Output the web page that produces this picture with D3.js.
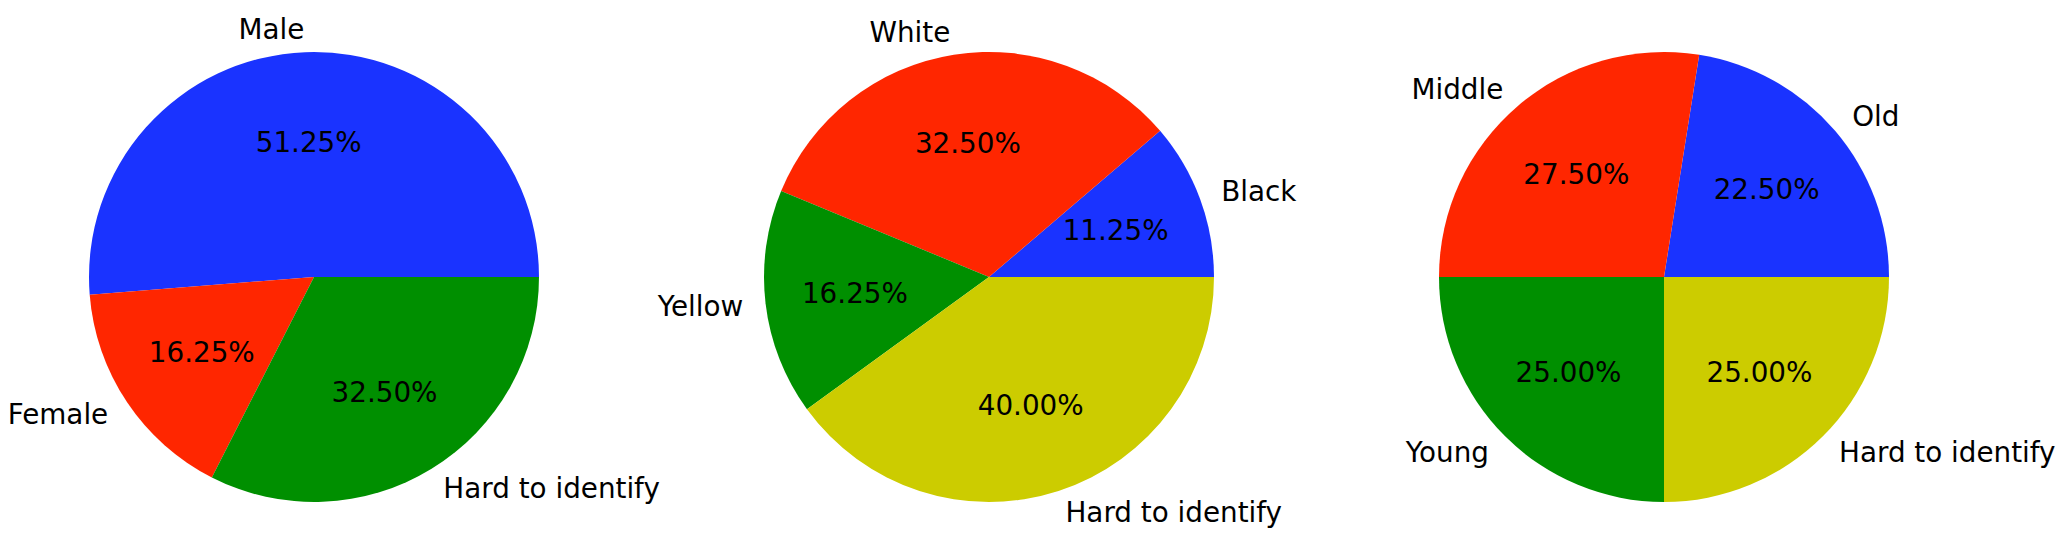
<!DOCTYPE html>
<html>
<head>
<meta charset="utf-8">
<script src="https://cdn.jsdelivr.net/npm/d3@7"></script>
<style>
  html, body { margin: 0; padding: 0; background: #fff; }
  text { font-family: "DejaVu Sans", sans-serif; font-size: 27.8px; fill: #000; }
</style>
</head>
<body>
<div id="chart"></div>
<script>
// data
var genderLabels = ["Male", "Female", "Hard to identify"];
var genderValues = [51.25, 16.25, 32.5];
var raceLabels = ["Black", "White", "Yellow", "Hard to identify"];
var raceValues = [11.25, 32.5, 16.25, 40];
var ageLabels = ["Old", "Middle", "Young", "Hard to identify"];
var ageValues = [22.5, 27.5, 25, 25];

var sliceColors = ["#1a33ff", "#ff2600", "#008f00", "#cccc00"];

var width = 2062, height = 536;
var radius = 225;
var centers = [[314, 277], [989, 277], [1664, 277]];

var svg = d3.select("#chart")
   .append("svg")
   .attr("width", width)
   .attr("height", height);

// matplotlib style: start at 3 o'clock, go counterclockwise
var pie = d3.pie()
   .sort(null)
   .startAngle(Math.PI / 2)
   .endAngle(Math.PI / 2 - 2 * Math.PI);

var arc = d3.arc().innerRadius(0).outerRadius(radius);
var labelArc = d3.arc().innerRadius(radius * 1.1).outerRadius(radius * 1.1);
var pctArc = d3.arc().innerRadius(radius * 0.6).outerRadius(radius * 0.6);

function drawPie(labels, values, center) {
   var g = svg.append("g")
      .attr("transform", "translate(" + center[0] + "," + center[1] + ")");

   var arcs = pie(values);

   g.selectAll("path")
      .data(arcs)
      .enter().append("path")
      .attr("d", arc)
      .attr("fill", function (d, i) { return sliceColors[i]; });

   g.selectAll(".label")
      .data(arcs)
      .enter().append("text")
      .attr("class", "label")
      .attr("x", function (d) { return labelArc.centroid(d)[0]; })
      .attr("y", function (d) { return labelArc.centroid(d)[1]; })
      .attr("dy", "0.35em")
      .attr("text-anchor", function (d) { return labelArc.centroid(d)[0] > 0 ? "start" : "end"; })
      .text(function (d, i) { return labels[i]; });

   g.selectAll(".pct")
      .data(arcs)
      .enter().append("text")
      .attr("class", "pct")
      .attr("x", function (d) { return pctArc.centroid(d)[0]; })
      .attr("y", function (d) { return pctArc.centroid(d)[1]; })
      .attr("dy", "0.35em")
      .attr("text-anchor", "middle")
      .text(function (d) { return d.value.toFixed(2) + "%"; });
}

drawPie(genderLabels, genderValues, centers[0]);
drawPie(raceLabels, raceValues, centers[1]);
drawPie(ageLabels, ageValues, centers[2]);
</script>
</body>
</html>
